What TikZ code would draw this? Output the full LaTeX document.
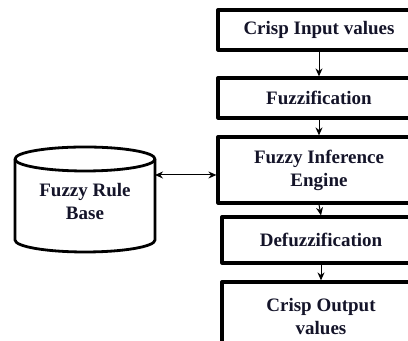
\documentclass[tikz,border=0pt]{standalone}
\usepackage{fontspec}
\setmainfont{Liberation Serif}
\usetikzlibrary{arrows.meta}
\definecolor{inkblue}{rgb}{0.08,0.08,0.16}
\begin{document}
\begin{tikzpicture}[x=0.5pt,y=0.5pt,line join=round,>={Stealth[length=4pt,width=3.5pt]},
	every node/.style={font=\bfseries\fontsize{9.5}{11.5}\selectfont,text=inkblue,align=center},
	blok/.style={draw,line width=1.6pt,minimum width=101pt,inner sep=0pt},
	noi/.style={->,line width=0.5pt}]
	\useasboundingbox (0,0) rectangle (408,341);
	\clip (0,0) rectangle (408,341);
	% right-hand chain of stages
	\node[blok,minimum height=20pt] (input) at (319,311) {Crisp Input values};
	\node[blok,minimum height=20pt] (fuzz) at (319,243) {Fuzzification};
	\node[blok,minimum height=33pt] (engine) at (319,171) {Fuzzy Inference\\Engine};
	\node[blok,minimum width=99pt,minimum height=23pt] (defuzz) at (321,101) {Defuzzification};
	\node[blok,minimum width=99pt,minimum height=34.5pt] (output) at (321,24.5) {Crisp Output\\values};
	\draw[noi] (input.south) -- (fuzz.north);
	\draw[noi] (fuzz.south) -- (engine.north);
	\draw[noi] (engine.south) -- (defuzz.north);
	\draw[noi] (defuzz.south) -- (output.north);
	% rule base drum
	\begin{scope}[line width=1.4pt]
		\draw (85,182) ellipse (35pt and 6pt);
		\draw (15,182) -- (15,101) arc (180:360:35pt and 6pt) -- (155,182);
	\end{scope}
	\node (rules) at (85,139.5) {Fuzzy Rule\\Base};
	\coordinate (rules-e) at (155,166);
	\draw[<->,line width=0.5pt] (rules-e) -- ([yshift=-2.5pt]engine.west);
\end{tikzpicture}
\end{document}
